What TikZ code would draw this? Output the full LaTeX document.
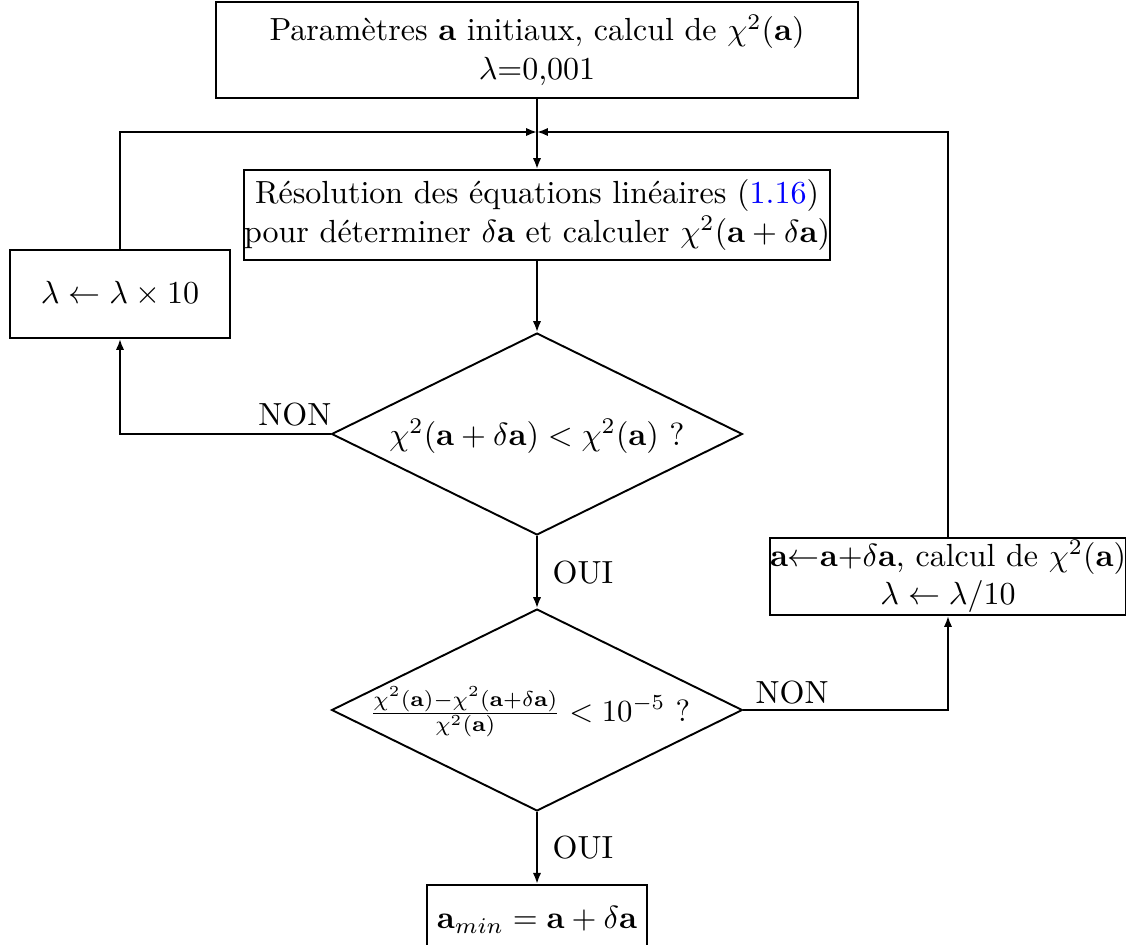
\documentclass[tikz,border=0pt]{standalone}
\usepackage{amsmath}
\usetikzlibrary{shapes.geometric,arrows.meta}
\begin{document}
\begin{tikzpicture}[x=0.3125pt,y=-0.3125pt,
  box/.style={draw,line width=0.6pt,align=center,inner sep=0pt},
  dia/.style={draw,diamond,aspect=2,line width=0.6pt,inner sep=0pt,minimum width=128.4pt,minimum height=63.1pt},
  arr/.style={line width=0.6pt,-{Latex[length=3.4pt,width=2.6pt]}},
  ln/.style={line width=0.6pt},
  lbl/.style={inner sep=0pt}]
\useasboundingbox (0,0) rectangle (1126,944);
\node[box,minimum width=200.9pt,minimum height=30pt] (init) at (537,50)
  {Paramètres $\mathbf{a}$ initiaux, calcul de $\chi^2(\mathbf{a})$\\$\lambda$=0,001};
\node[box,minimum width=183.1pt,minimum height=28.1pt] (solve) at (537,215)
  {Résolution des équations linéaires ({\color{blue}1.16})\\pour déterminer $\delta\mathbf{a}$ et calculer $\chi^2(\mathbf{a}+\delta\mathbf{a})$};
\node[box,minimum width=68.75pt,minimum height=27.5pt] (inc) at (120,294)
  {$\lambda \leftarrow \lambda \times 10$};
\node[dia] (d1) at (537,434) {};
\node[lbl] (t1) at (537,436) {$\chi^2(\mathbf{a}+\delta\mathbf{a}) < \chi^2(\mathbf{a})$ ?};
\node[dia] (d2) at (537,710) {};
\node[lbl,scale=0.96] (t2) at (530,712) {$\frac{\chi^2(\mathbf{a})-\chi^2(\mathbf{a}+\delta\mathbf{a})}{\chi^2(\mathbf{a})} < 10^{-5}$ ?};
\node[box,minimum width=111.25pt,minimum height=24.1pt] (upd) at (948,576.5)
  {$\mathbf{a}{\leftarrow}\mathbf{a}{+}\delta\mathbf{a}$, calcul de $\chi^2(\mathbf{a})$\\$\lambda \leftarrow \lambda/10$};
\node[box,minimum width=68.75pt,minimum height=22pt] (fin) at (537,920)
  {$\mathbf{a}_{min} = \mathbf{a} + \delta\mathbf{a}$};
\coordinate (j) at (537,132);
\draw[ln] (init.south) -- (j);
\draw[arr] (j) -- (solve.north);
\draw[arr] (inc.north) |- (j);
\draw[arr] (upd.north) |- (j);
\draw[arr] (solve.south) -- (d1.north);
\draw[arr] (d1.west) -| (inc.south);
\draw[arr] (d1.south) -- (d2.north);
\draw[arr] (d2.east) -| (upd.south);
\draw[arr] (d2.south) -- (fin.north);
\node[lbl,anchor=base east] (n1) at (332,425) {NON};
\node[lbl,anchor=base west] (n2) at (755,703) {NON};
\node[lbl,anchor=base west] (o1) at (552,583) {OUI};
\node[lbl,anchor=base west] (o2) at (552,858) {OUI};
\end{tikzpicture}
\end{document}
